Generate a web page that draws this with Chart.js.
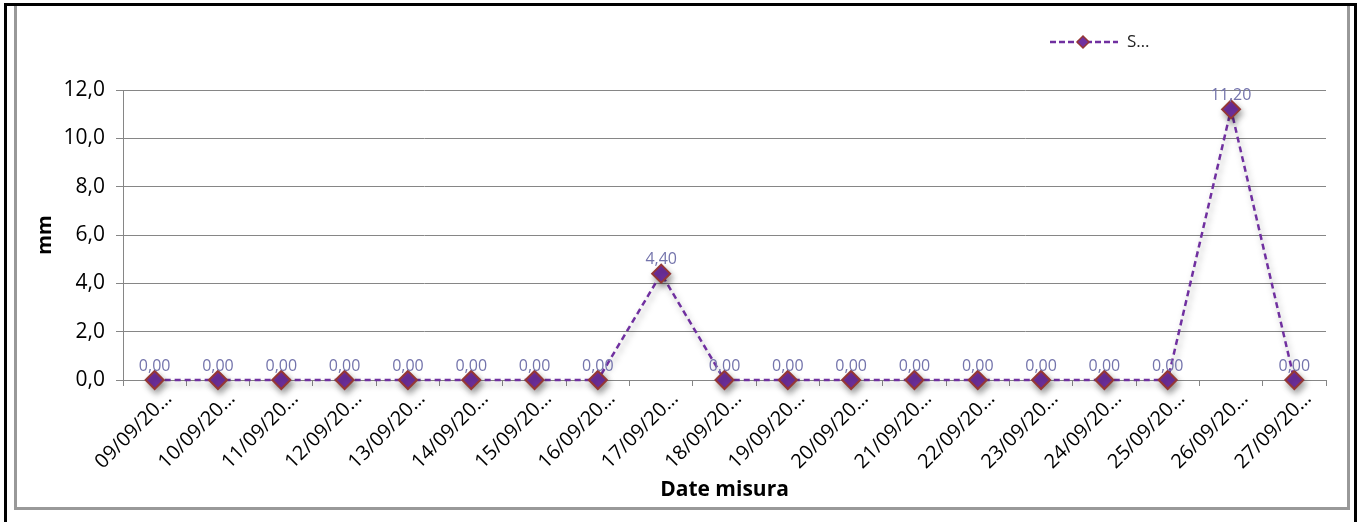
<!DOCTYPE html>
<html>
<head>
<meta charset="utf-8">
<script src="https://cdn.jsdelivr.net/npm/chart.js@4"></script>
<style>
    html, body { margin: 0; padding: 0; background: #fff; }
    #wrap { position: relative; width: 1361px; height: 522px; }
</style>
</head>
<body>
<div id="wrap"><canvas id="myChart" width="1361" height="522"></canvas></div>
<script>
// Chart data
const dateLabels = ['09/09/20…', '10/09/20…', '11/09/20…', '12/09/20…', '13/09/20…', '14/09/20…',
    '15/09/20…', '16/09/20…', '17/09/20…', '18/09/20…', '19/09/20…', '20/09/20…', '21/09/20…',
    '22/09/20…', '23/09/20…', '24/09/20…', '25/09/20…', '26/09/20…', '27/09/20…'];
const rainValues = [0, 0, 0, 0, 0, 0, 0, 0, 4.4, 0, 0, 0, 0, 0, 0, 0, 0, 11.2, 0];
const seriesName = 'S…';
const yTicks = [0, 2, 4, 6, 8, 10, 12];

const lineColor = '#7030a0';
const markerBorder = '#953735';
const fontFamily = '"Open Sans", "Noto Sans", sans-serif';

function toComma(v, d) {
    return v.toFixed(d).replace('.', ',');
}

// Frame drawn like the spreadsheet export
const framePlugin = {
    id: 'frame',
    beforeDraw(chart) {
        const ctx = chart.ctx;
        ctx.save();
        ctx.fillStyle = '#fff';
        ctx.fillRect(0, 0, chart.width, chart.height);
        ctx.fillStyle = '#000';
        ctx.fillRect(4, 3, 3, 519);
        ctx.fillRect(4, 3, 1353, 3);
        ctx.fillRect(1354, 3, 3, 519);
        ctx.fillStyle = '#999';
        ctx.fillRect(14, 6, 3, 504);
        ctx.fillRect(14, 507, 1336, 3);
        ctx.fillRect(1347, 6, 3, 504);
        ctx.restore();
    }
};

// Soft shadow under line and markers
const shadowPlugin = {
    id: 'shadow',
    beforeDatasetsDraw(chart) {
        const ctx = chart.ctx;
        ctx.save();
        ctx.shadowColor = 'rgba(0,0,0,0.35)';
        ctx.shadowBlur = 6;
        ctx.shadowOffsetX = 2;
        ctx.shadowOffsetY = 4;
    },
    afterDatasetsDraw(chart) {
        chart.ctx.restore();
    }
};

// Value labels above every point
const valueLabels = {
    id: 'valueLabels',
    afterDatasetsDraw(chart) {
        const ctx = chart.ctx;
        const meta = chart.getDatasetMeta(0);
        ctx.save();
        ctx.font = '16px ' + fontFamily;
        ctx.fillStyle = '#7474ac';
        ctx.textAlign = 'center';
        ctx.textBaseline = 'bottom';
        meta.data.forEach((pt, i) => {
            ctx.fillText(toComma(rainValues[i], 2), pt.x, pt.y - 6);
        });
        ctx.restore();
    }
};

// Legend in the top right corner
const legendPlugin = {
    id: 'customLegend',
    afterDraw(chart) {
        const ctx = chart.ctx;
        const y = 42;
        ctx.save();
        ctx.strokeStyle = lineColor;
        ctx.lineWidth = 2.5;
        ctx.setLineDash([6, 3]);
        ctx.beginPath();
        ctx.moveTo(1050, y);
        ctx.lineTo(1118, y);
        ctx.stroke();
        ctx.setLineDash([]);
        ctx.beginPath();
        ctx.moveTo(1083, y - 6);
        ctx.lineTo(1089, y);
        ctx.lineTo(1083, y + 6);
        ctx.lineTo(1077, y);
        ctx.closePath();
        ctx.fillStyle = lineColor;
        ctx.fill();
        ctx.strokeStyle = markerBorder;
        ctx.lineWidth = 1.5;
        ctx.stroke();
        ctx.font = '17px ' + fontFamily;
        ctx.fillStyle = '#222';
        ctx.textBaseline = 'middle';
        ctx.fillText(seriesName, 1127, y);
        ctx.restore();
    }
};

const ctx = document.getElementById('myChart');

const myChart = new Chart(ctx, {
    type: 'line',
    data: {
        labels: dateLabels,
        datasets: [{
            label: seriesName,
            data: rainValues,
            borderColor: lineColor,
            borderWidth: 2.5,
            borderDash: [6, 4],
            pointStyle: 'rectRot',
            pointRadius: 9,
            pointBackgroundColor: lineColor,
            pointBorderColor: markerBorder,
            pointBorderWidth: 2,
            tension: 0,
            clip: false
        }]
    },
    options: {
        responsive: false,
        animation: false,
        devicePixelRatio: 1,
        layout: { padding: { left: 0, right: 35, top: 90, bottom: 13 } },
        plugins: {
            legend: { display: false },
            tooltip: { enabled: false }
        },
        scales: {
            x: {
                offset: true,
                grid: {
                    offset: true,
                    drawOnChartArea: false,
                    drawTicks: true,
                    tickLength: 6,
                    color: '#868686'
                },
                border: { color: '#868686', width: 1 },
                ticks: {
                    minRotation: 45,
                    maxRotation: 45,
                    autoSkip: false,
                    color: '#000',
                    padding: 1,
                    labelOffset: 14,
                    font: { family: fontFamily, size: 20 }
                },
                title: {
                    display: true,
                    text: 'Date misura',
                    color: '#000',
                    padding: { top: 0, bottom: 6 },
                    font: { family: fontFamily, size: 21, weight: 'bold' }
                },
                afterFit(scale) { scale.height = 129; }
            },
            y: {
                min: 0,
                max: 12,
                afterBuildTicks(scale) {
                    scale.ticks = yTicks.map(v => ({ value: v }));
                },
                grid: {
                    color: '#868686',
                    tickLength: 7
                },
                border: { color: '#868686', width: 1 },
                ticks: {
                    color: '#000',
                    padding: 11,
                    font: { family: fontFamily, size: 21 },
                    callback: v => toComma(v, 1)
                },
                title: {
                    display: true,
                    text: 'mm',
                    color: '#000',
                    padding: { top: 33, bottom: 0 },
                    font: { family: fontFamily, size: 20, weight: 'bold' }
                },
                afterFit(scale) { scale.width = 123; }
            }
        }
    },
    plugins: [framePlugin, shadowPlugin, valueLabels, legendPlugin]
});
</script>
</body>
</html>
